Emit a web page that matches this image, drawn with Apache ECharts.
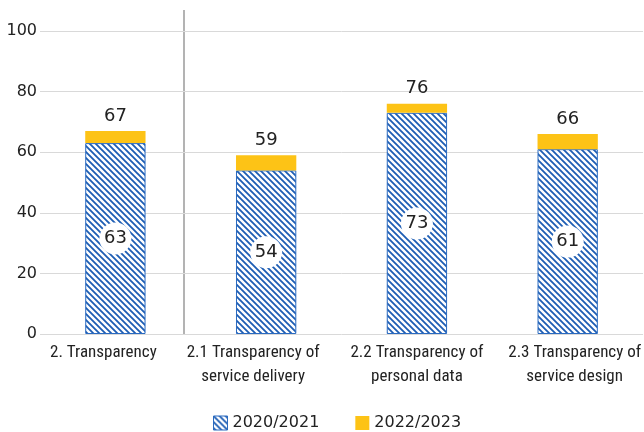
<!DOCTYPE html>
<html>
<head>
<meta charset="utf-8">
<script src="https://cdn.jsdelivr.net/npm/echarts@6/dist/echarts.min.js"></script>
<style>
html,body{margin:0;padding:0;background:#fff;}
#chart{width:644px;height:432px;}
</style>
</head>
<body>
<div id="chart"></div>
<script>
// data
var categories = ['2. Transparency', '2.1 Transparency of\nservice delivery', '2.2 Transparency of\npersonal data', '2.3 Transparency of\nservice design'];
var seriesNames = ['2020/2021', '2022/2023'];
var base2021 = [63, 54, 73, 61];
var total2023 = [67, 59, 76, 66];
var extra2023 = total2023.map(function(v, i){ return v - base2021[i]; });
var yTicks = [0, 20, 40, 60, 80, 100];

// hatch pattern
function makeHatch(){
    var c = document.createElement('canvas');
    c.width = 6; c.height = 6;
    var ctx = c.getContext('2d');
    ctx.fillStyle = '#fff';
    ctx.fillRect(0, 0, 6, 6);
    ctx.strokeStyle = '#1d5db4';
    ctx.lineWidth = 1.8;
    ctx.beginPath();
    ctx.moveTo(-1, -1); ctx.lineTo(7, 7);
    ctx.moveTo(-4, 2); ctx.lineTo(2, 8);
    ctx.moveTo(2, -4); ctx.lineTo(8, 2);
    ctx.stroke();
    return c;
}
var hatch = {image: makeHatch(), repeat: 'repeat'};

var font = '"Roboto Condensed", "Liberation Sans Narrow", sans-serif';
// label nudges (left/right padding) so they sit like the original
var labelPad = [[0, 24, 0, 0], [0, 26, 0, 0], [0, 0, 0, 0], [0, 0, 0, 14]];

var chart = echarts.init(document.getElementById('chart'));
chart.setOption({
    animation: false,
    grid: {left: 40, right: 0, top: 31, bottom: 98},
    legend: {
        top: 410,
        left: 208,
        itemWidth: 14,
        itemHeight: 14,
        itemGap: 36,
        textStyle: {fontFamily: 'DejaVu Sans', fontSize: 16, color: '#222'},
        data: [
            {name: seriesNames[0], icon: 'rect', itemStyle: {color: hatch, borderColor: '#2a6ac0', borderWidth: 1}},
            {name: seriesNames[1], icon: 'rect'}
        ]
    },
    xAxis: {
        type: 'category',
        data: categories,
        axisLine: {show: false},
        axisTick: {show: false},
        axisLabel: {
            fontFamily: font, fontSize: 17, color: '#222', lineHeight: 24, margin: 7, interval: 0,
            formatter: function(v, i){
                return '{p' + i + '|' + v.split('\n').join('}\n{p' + i + '|') + '}';
            },
            rich: {
                p0: {fontFamily: font, fontSize: 17, color: '#222', lineHeight: 24, padding: labelPad[0]},
                p1: {fontFamily: font, fontSize: 17, color: '#222', lineHeight: 24, padding: labelPad[1]},
                p2: {fontFamily: font, fontSize: 17, color: '#222', lineHeight: 24, padding: labelPad[2]},
                p3: {fontFamily: font, fontSize: 17, color: '#222', lineHeight: 24, padding: labelPad[3]}
            }
        }
    },
    yAxis: {
        type: 'value',
        min: yTicks[0],
        max: yTicks[yTicks.length - 1],
        interval: 20,
        axisLabel: {fontFamily: 'DejaVu Sans', fontSize: 16, color: '#222', margin: 3},
        splitLine: {lineStyle: {color: '#d9d9d9'}}
    },
    series: [
        {
            name: seriesNames[0],
            type: 'bar',
            stack: 'a',
            barWidth: '40%',
            data: base2021,
            itemStyle: {color: hatch, borderColor: '#2a6ac0', borderWidth: 1},
            label: {
                show: true,
                position: 'inside',
                fontFamily: 'DejaVu Sans',
                fontSize: 18,
                color: '#222',
                backgroundColor: '#fff',
                width: 32,
                height: 32,
                lineHeight: 32,
                align: 'center',
                borderRadius: 16
            }
        },
        {
            name: seriesNames[1],
            type: 'bar',
            stack: 'a',
            data: extra2023,
            itemStyle: {color: '#fdc316'},
            label: {
                show: true,
                position: 'top',
                distance: 6,
                fontFamily: 'DejaVu Sans',
                fontSize: 18,
                color: '#222',
                formatter: function(p){ return total2023[p.dataIndex]; }
            }
        }
    ],
    graphic: [{
        type: 'line',
        shape: {x1: 184, y1: 10, x2: 184, y2: 334},
        style: {stroke: '#9a9a9a', lineWidth: 1.5}
    }]
});
</script>
</body>
</html>
